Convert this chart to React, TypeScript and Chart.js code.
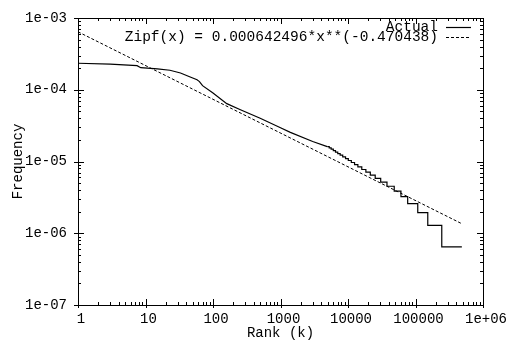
import React, { useEffect, useRef } from 'react';
import { Chart, registerables } from 'chart.js';

Chart.register(...registerables);

const xTickValues = [1, 10, 100, 1000, 10000, 100000, 1000000];
const xTickLabels = ['1', '10', '100', '1000', '10000', '100000', '1e+06'];
const yTickValues = [1e-7, 1e-6, 1e-5, 1e-4, 1e-3];
const yTickLabels = ['1e-07', '1e-06', '1e-05', '1e-04', '1e-03'];

// Smooth head of the "Actual" curve (rank, frequency)
const actualRanks = [1, 3, 7.5, 8.5, 15, 23, 33, 45, 58, 63, 70, 100, 160, 250, 500, 1000, 1400, 3000, 4930];
const actualFreq = [2.34e-4, 2.28e-4, 2.17e-4, 2.03e-4, 1.96e-4, 1.87e-4, 1.71e-4, 1.52e-4, 1.38e-4, 1.3e-4, 1.14e-4, 9.0e-5, 6.4e-5, 5.3e-5, 4.0e-5, 2.95e-5, 2.55e-5, 1.9e-5, 1.613e-5];

// Stepped tail of the "Actual" curve: rank where each level starts, and the level
const tailRanks = [4930, 5270, 5630, 6060, 6530, 7050, 7650, 8350, 9200, 10100, 11200, 12500, 14000, 16000, 18400, 21400, 25300, 30500, 37800, 48400, 60900, 76600, 108000, 152000, 245000, 486000];
const tailFreq = [1.613e-5, 1.548e-5, 1.484e-5, 1.419e-5, 1.355e-5, 1.29e-5, 1.226e-5, 1.161e-5, 1.097e-5, 1.032e-5, 9.68e-6, 9.03e-6, 8.39e-6, 7.74e-6, 7.1e-6, 6.45e-6, 5.81e-6, 5.16e-6, 4.52e-6, 3.87e-6, 3.23e-6, 2.58e-6, 1.94e-6, 1.29e-6, 6.45e-7, 6.45e-7];

// Zipf fit line endpoints
const zipfRanks = [1, 486000];
const zipfFreq = [6.42496e-4, 1.357e-6];

const FONT_FAMILY = '"Liberation Mono", "Courier New", monospace';
const FONT_SIZE = 14;
const LEGEND_FONT_SIZE = 14.5;

const ticksPlugin = {
  id: 'gpTicks',
  afterDraw(chart: any) {
    const { ctx, chartArea } = chart;
    const xs = chart.scales.x;
    const ys = chart.scales.y;
    const { left, right, top, bottom } = chartArea;
    ctx.save();
    ctx.strokeStyle = '#000';
    ctx.lineWidth = 1;
    ctx.beginPath();
    const major = 6;
    const minor = 3;
    const drawX = (v: number, len: number, out: number) => {
      const px = Math.round(xs.getPixelForValue(v)) + 0.5;
      ctx.moveTo(px, bottom + out);
      ctx.lineTo(px, bottom - len);
      ctx.moveTo(px, top);
      ctx.lineTo(px, top + len);
    };
    const drawY = (v: number, len: number, out: number) => {
      const py = Math.round(ys.getPixelForValue(v)) + 0.5;
      ctx.moveTo(left - out, py);
      ctx.lineTo(left + len, py);
      ctx.moveTo(right, py);
      ctx.lineTo(right - len, py);
    };
    xTickValues.forEach((d, i) => {
      drawX(d, major, 3);
      if (i < xTickValues.length - 1) {
        for (let k = 2; k <= 9; k++) drawX(d * k, minor, 0);
      }
    });
    yTickValues.forEach((d, i) => {
      drawY(d, major, 4);
      if (i < yTickValues.length - 1) {
        for (let k = 2; k <= 9; k++) drawY(d * k, minor, 0);
      }
    });
    ctx.stroke();
    ctx.beginPath();
    ctx.rect(left + 0.5, top + 0.5, right - left, bottom - top);
    ctx.stroke();
    ctx.restore();
  },
};

const legendPlugin = {
  id: 'gpLegend',
  afterDraw(chart: any) {
    const { ctx, chartArea } = chart;
    ctx.save();
    ctx.font = `${LEGEND_FONT_SIZE}px ${FONT_FAMILY}`;
    ctx.fillStyle = '#000';
    ctx.textAlign = 'right';
    ctx.textBaseline = 'middle';
    const sampleEnd = chartArea.right - 12;
    const sampleStart = sampleEnd - 25;
    const textRight = sampleStart - 8;
    let y = chartArea.top + 9;
    chart.data.datasets.forEach((ds: any) => {
      if (ds.noLegend) return;
      ctx.fillText(ds.label, textRight, y);
      ctx.beginPath();
      ctx.strokeStyle = ds.borderColor;
      ctx.lineWidth = ds.borderWidth;
      ctx.setLineDash(ds.borderDash || []);
      ctx.moveTo(sampleStart, Math.round(y) + 0.5);
      ctx.lineTo(sampleEnd, Math.round(y) + 0.5);
      ctx.stroke();
      y += 10;
    });
    ctx.restore();
  },
};

export default function App() {
  const canvasRef = useRef<HTMLCanvasElement | null>(null);

  useEffect(() => {
    const canvas = canvasRef.current;
    if (!canvas) return;
    const font = { family: FONT_FAMILY, size: FONT_SIZE, lineHeight: 1 };
    const chart = new Chart(canvas, {
      type: 'line',
      data: {
        datasets: [
          {
            label: 'Actual',
            data: actualRanks.map((r, i) => ({ x: r, y: actualFreq[i] })),
            borderColor: '#000',
            borderWidth: 1.2,
            pointRadius: 0,
            tension: 0,
            fill: false,
          } as any,
          {
            label: 'Zipf(x) = 0.000642496*x**(-0.470438)',
            data: zipfRanks.map((r, i) => ({ x: r, y: zipfFreq[i] })),
            borderColor: '#000',
            borderWidth: 1,
            borderDash: [3, 2],
            pointRadius: 0,
            tension: 0,
            fill: false,
          } as any,
          {
            label: 'Actual (tail)',
            noLegend: true,
            data: tailRanks.map((r, i) => ({ x: r, y: tailFreq[i] })),
            borderColor: '#000',
            borderWidth: 1.2,
            pointRadius: 0,
            stepped: 'before',
            fill: false,
          } as any,
        ],
      },
      options: {
        animation: false,
        responsive: false,
        parsing: true,
        layout: { padding: { left: 0, top: 5, right: 33, bottom: 0 } },
        plugins: {
          legend: { display: false },
          tooltip: { enabled: false },
        },
        scales: {
          x: {
            type: 'logarithmic',
            min: 1,
            max: 1000000,
            grid: { display: false, drawTicks: false },
            border: { display: false },
            afterBuildTicks: (scale: any) => {
              scale.ticks = xTickValues.map((v) => ({ value: v }));
            },
            afterFit: (scale: any) => {
              scale.height = 40;
            },
            ticks: {
              autoSkip: false,
              maxRotation: 0,
              padding: 7,
              labelOffset: 3,
              color: '#000',
              font,
              callback: (_v: any, i: number) => xTickLabels[i],
            },
            title: {
              display: true,
              text: 'Rank (k)',
              color: '#000',
              font,
              padding: { top: 0, bottom: 5 },
            },
          },
          y: {
            type: 'logarithmic',
            min: 1e-7,
            max: 1e-3,
            grid: { display: false, drawTicks: false },
            border: { display: false },
            afterBuildTicks: (scale: any) => {
              scale.ticks = yTickValues.map((v) => ({ value: v }));
            },
            afterFit: (scale: any) => {
              scale.width = 78;
            },
            ticks: {
              autoSkip: false,
              padding: 11,
              color: '#000',
              font,
              callback: (_v: any, i: number) => yTickLabels[i],
            },
            title: {
              display: true,
              text: 'Frequency',
              color: '#000',
              font,
              padding: { top: 11, bottom: 0 },
            },
          },
        },
      },
      plugins: [ticksPlugin, legendPlugin],
    });
    return () => {
      chart.destroy();
    };
  }, []);

  return (
    <div style={{ position: 'fixed', left: 0, top: 0, width: 516, height: 345, background: '#fff' }}>
      <canvas ref={canvasRef} width={516} height={345} style={{ display: 'block' }} />
    </div>
  );
}
